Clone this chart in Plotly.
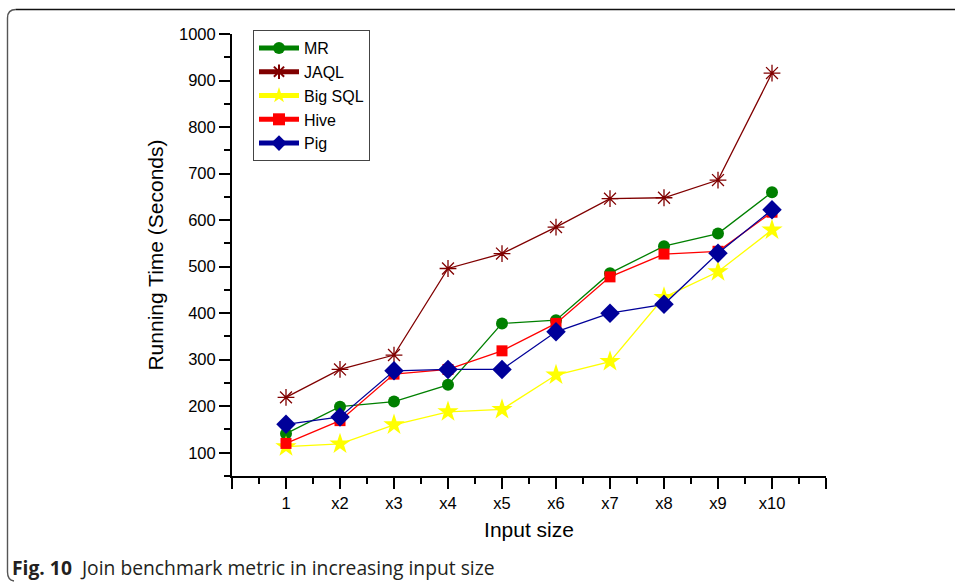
import plotly.graph_objects as go

# ---- data ----
categories = ["1", "x2", "x3", "x4", "x5", "x6", "x7", "x8", "x9", "x10"]
mr_vals = [141, 199, 210, 246, 378, 385, 486, 544, 571, 660]
jaql_vals = [219, 279, 310, 496, 528, 585, 646, 648, 686, 916]
bigsql_vals = [113, 119, 160, 188, 193, 267, 296, 434, 489, 579]
hive_vals = [120, 169, 269, 279, 319, 378, 478, 527, 533, 617]
pig_vals = [161, 177, 276, 279, 279, 360, 400, 419, 529, 622]
y_ticks = [100, 200, 300, 400, 500, 600, 700, 800, 900, 1000]

x_pos = list(range(1, len(categories) + 1))

W, H = 955, 583
L, R, T, B = 232, 826, 34, 476   # plot area in pixels


def px(xp):
    return (xp - L) / (R - L)


def py(yp):
    return (B - yp) / (B - T)


AX_FONT = "Liberation Sans, Arial, sans-serif"

series = [
    ("MR", mr_vals, "#008000", "circle", 12),
    ("JAQL", jaql_vals, "#800000", "asterisk-open", 14),
    ("Big SQL", bigsql_vals, "#FFFF00", "star", 16),
    ("Hive", hive_vals, "#FF0000", "square", 11),
    ("Pig", pig_vals, "#000099", "diamond", 15),
]

fig = go.Figure()
for name, vals, col, sym, size in series:
    fig.add_trace(go.Scatter(
        x=x_pos, y=vals, name=name, mode="lines+markers",
        line=dict(color=col, width=1.3),
        marker=dict(color=col, symbol=sym, size=size,
                    line=dict(color=col, width=1.3 if sym == "asterisk-open" else 0)),
    ))

fig.update_layout(
    width=W, height=H,
    margin=dict(l=L, r=W - R, t=T, b=H - B, autoexpand=False),
    paper_bgcolor="white", plot_bgcolor="white",
    font=dict(family=AX_FONT, color="black", size=16),
    showlegend=True,
    legend=dict(
        x=px(253), y=py(30), xanchor="left", yanchor="top",
        bordercolor="#444", borderwidth=1, bgcolor="white",
        font=dict(family=AX_FONT, size=16, color="black"),
        tracegroupgap=0, itemsizing="constant", itemwidth=40,
    ),
    xaxis=dict(
        range=[0, 11], tickmode="array",
        tickvals=[0] + x_pos + [11], ticktext=[""] + categories + [""],
        showgrid=False, zeroline=False, showline=True,
        linecolor="black", linewidth=2,
        ticks="outside", ticklen=11, tickwidth=1.5, tickcolor="black",
        minor=dict(tickmode="array", tickvals=[i + 0.5 for i in range(11)],
                   ticks="outside", ticklen=6, tickwidth=1.5, tickcolor="black"),
        tickfont=dict(size=16.5),
        title=dict(text="Input size", font=dict(size=21), standoff=12),
    ),
    yaxis=dict(
        range=[50, 1000], tickmode="array", tickvals=y_ticks,
        showgrid=False, zeroline=False, showline=True,
        linecolor="black", linewidth=2,
        ticks="outside", ticklen=11, tickwidth=1.5, tickcolor="black",
        minor=dict(tickmode="array", tickvals=[v + 50 for v in [0] + y_ticks[:-1]],
                   ticks="outside", ticklen=6, tickwidth=1.5, tickcolor="black"),
        tickfont=dict(size=16.5),
        title=dict(text="Running Time (Seconds)", font=dict(size=21), standoff=10),
    ),
)

# figure frame (top rule and rounded left border)
fig.add_shape(type="line", xref="paper", yref="paper",
              x0=px(16), x1=px(955), y0=py(9.5), y1=py(9.5),
              line=dict(color="#111", width=1.6), layer="above")
path = (f"M {px(16)},{py(9.5)} Q {px(7.5)},{py(9.5)} {px(7.5)},{py(18)} "
        f"L {px(7.5)},{py(572)} Q {px(7.5)},{py(580)} {px(14)},{py(581)}")
fig.add_shape(type="path", xref="paper", yref="paper", path=path,
              line=dict(color="#555", width=1.4), layer="above")

# caption
fig.add_annotation(
    xref="paper", yref="paper", x=px(10), y=py(567),
    xanchor="left", yanchor="middle", showarrow=False,
    text="<b>Fig. 10</b>  Join benchmark metric in increasing input size",
    font=dict(family="Open Sans, Noto Sans, sans-serif", size=19.3, color="#231f20"),
)

fig.write_html("out.html", config={"displayModeBar": False})

# remove the default page margin so the figure sits at the window's top-left
with open("out.html", "r", encoding="utf-8") as f:
    html = f.read()
html = html.replace("<head>", "<head><style>html,body{margin:0;padding:0;overflow:hidden;}</style>", 1)
with open("out.html", "w", encoding="utf-8") as f:
    f.write(html)
